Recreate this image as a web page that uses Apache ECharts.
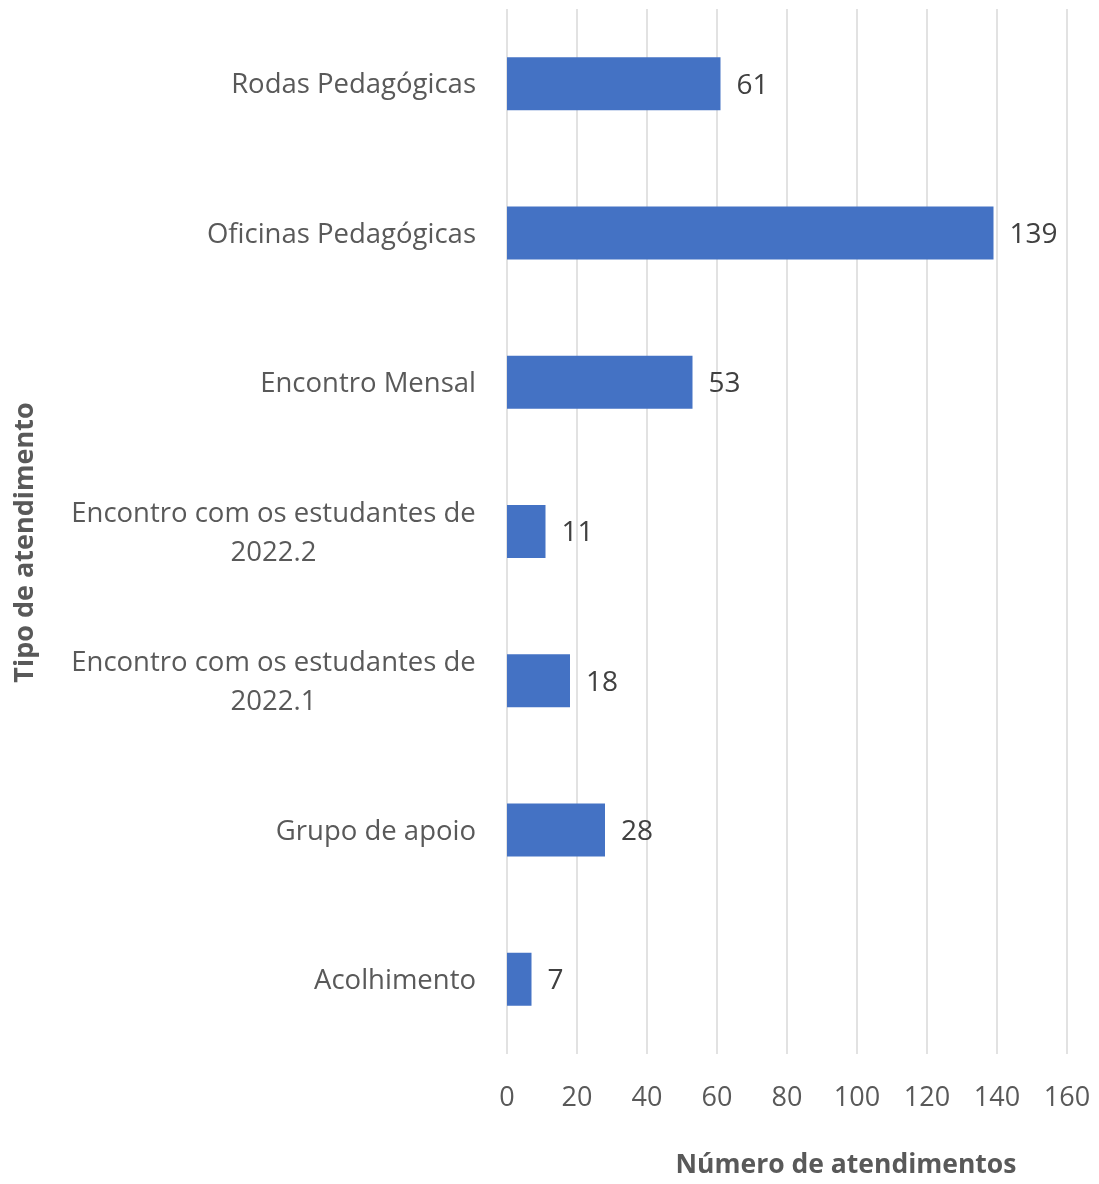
<!DOCTYPE html>
<html><head><meta charset="utf-8">
<script src="https://cdn.jsdelivr.net/npm/echarts@6/dist/echarts.min.js"></script>
<style>html,body{margin:0;padding:0;background:#fff}#c{width:1099px;height:1184px}</style>
</head><body><div id="c"></div>
<script>
const categories = ["Acolhimento","Grupo de apoio","Encontro com os estudantes de 2022.1","Encontro com os estudantes de 2022.2","Encontro Mensal","Oficinas Pedagógicas","Rodas Pedagógicas"];
const values = [7, 28, 18, 11, 53, 139, 61];
const xTicks = [0, 20, 40, 60, 80, 100, 120, 140, 160];
const xTitle = "Número de atendimentos";
const yTitle = "Tipo de atendimento";

const FONT = "Open Sans";
const CAT_SIZE = 27.5;
const MAX_W = 440;
const ctx = document.createElement('canvas').getContext('2d');
ctx.font = CAT_SIZE + 'px "' + FONT + '"';
function wrap(text) {
  const words = text.split(' ');
  const lines = [];
  let cur = '';
  for (const w of words) {
    const t = cur ? cur + ' ' + w : w;
    if (cur && ctx.measureText(t).width > MAX_W) { lines.push(cur); cur = w; }
    else cur = t;
  }
  lines.push(cur);
  return lines;
}
function catFormatter(v) {
  const lines = wrap(v);
  if (lines.length === 1) return v;
  return lines.map(l => '{c|' + l + '}').join('\n');
}
let blockW = 0;
categories.forEach(c => { const ls = wrap(c); if (ls.length > 1) ls.forEach(l => { blockW = Math.max(blockW, Math.ceil(ctx.measureText(l).width)); }); });

const chart = echarts.init(document.getElementById('c'), null, {renderer: 'canvas'});
chart.setOption({
  animation: false,
  textStyle: {fontFamily: FONT},
  grid: {left: 507, right: 32, top: 9, bottom: 125, containLabel: false},
  xAxis: {
    type: 'value', min: xTicks[0], max: xTicks[xTicks.length-1], interval: xTicks[1]-xTicks[0],
    axisLine: {show: false}, axisTick: {show: false},
    splitLine: {lineStyle: {color: '#D9D9D9', width: 1.5}},
    axisLabel: {color: '#595959', fontSize: 27, fontFamily: FONT, margin: 31},
    name: xTitle, nameLocation: 'middle', nameGap: 98,
    nameTextStyle: {color: '#595959', fontSize: 26.5, fontWeight: 'bold', fontFamily: FONT, padding: [0, 0, 0, 118]}
  },
  yAxis: {
    type: 'category', data: categories,
    axisLine: {show: false}, axisTick: {show: false},
    axisLabel: {
      color: '#595959', fontSize: CAT_SIZE, fontFamily: FONT, margin: 31, lineHeight: 39, align: 'right',
      padding: [4, 0, 0, 0],
      formatter: catFormatter,
      rich: {c: {color: '#595959', fontSize: CAT_SIZE, fontFamily: FONT, lineHeight: 39, width: blockW, align: 'center'}}
    },
    name: yTitle, nameLocation: 'middle', nameRotate: 90, nameGap: 468,
    nameTextStyle: {color: '#595959', fontSize: 27, fontWeight: 'bold', fontFamily: FONT, padding: [0, 22, 0, 0]}
  },
  series: [{
    type: 'bar', data: values, barWidth: 53,
    itemStyle: {color: '#4472C4'},
    label: {show: true, position: 'right', distance: 16, color: '#404040', fontSize: 28, fontFamily: FONT, offset: [0, 2]}
  }]
});
</script></body></html>
